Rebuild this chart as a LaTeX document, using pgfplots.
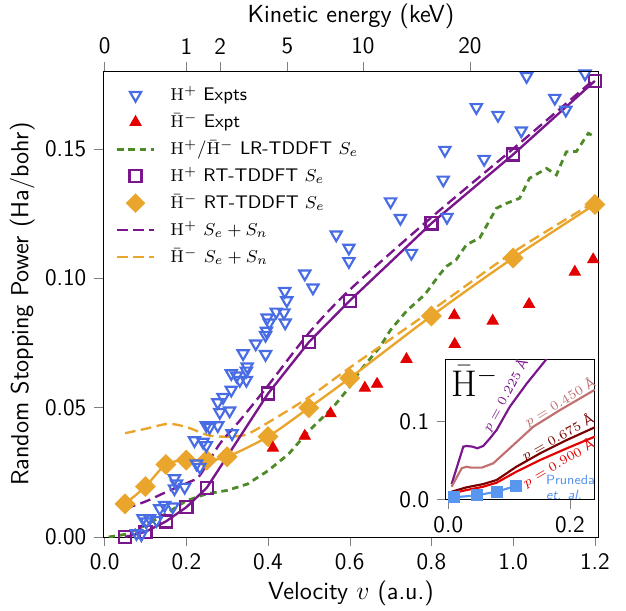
\documentclass[border=0pt]{standalone}
\usepackage{pgfplots}
\pgfplotsset{compat=1.18}
\renewcommand{\familydefault}{\sfdefault}

\definecolor{cBlue}{RGB}{72,108,228}
\definecolor{cRed}{RGB}{226,0,0}
\definecolor{cGreen}{RGB}{78,138,40}
\definecolor{cPurple}{RGB}{122,22,140}
\definecolor{cOrange}{RGB}{234,166,44}
\definecolor{cPink}{RGB}{192,112,112}
\definecolor{cDark}{RGB}{122,0,0}
\definecolor{cPru}{RGB}{88,150,240}

\newcommand{\Hp}{\ensuremath{\mathrm{H}^{+}}}
\newcommand{\Hm}{\ensuremath{\bar{\mathrm{H}}^{-}}}

\begin{document}
\begin{tikzpicture}
\path[use as bounding box] (-47.9pt,-34pt) rectangle (243.3pt,249.8pt);

\begin{axis}[
  at={(0,0)}, anchor=south west,
  width=230.7pt, height=216.7pt, scale only axis,
  xmin=-0.004, xmax=1.21, ymin=0, ymax=0.18,
  xtick={0,0.2,0.4,0.6,0.8,1.0,1.2},
  ytick={0,0.05,0.1,0.15},
  tick pos=left, tick align=outside,
  /pgf/number format/assume math mode=true,
  xticklabel style={/pgf/number format/.cd,fixed,fixed zerofill,precision=1},
  yticklabel style={/pgf/number format/.cd,fixed,fixed zerofill,precision=2},
  ticklabel style={font=\fontsize{11}{13}\selectfont},
  label style={font=\fontsize{11.5}{14}\selectfont},
  xlabel={Velocity $v$ (a.u.)},
  ylabel={Random Stopping Power (Ha/bohr)},
  xlabel style={yshift=2pt},
  ylabel style={yshift=-2pt},
  legend style={at={(0.012,0.982)}, anchor=north west, draw=none, fill=none,
    font=\fontsize{8.5}{10.5}\selectfont, row sep=2.4pt,
    nodes={inner ysep=1pt},
    /tikz/every odd column/.append style={column sep=5pt}},
  legend cell align=left,
]
% legend
\addlegendimage{only marks, mark=triangle, mark size=3pt, mark options={rotate=180, draw=cBlue, line width=1pt}}
\addlegendentry{\Hp\ Expts}
\addlegendimage{only marks, mark=triangle*, mark size=3pt, mark options={fill=cRed, draw=cRed}}
\addlegendentry{\Hm\ Expt}
\addlegendimage{cGreen, line width=1.3pt, dash pattern=on 3pt off 2.2pt}
\addlegendentry{\Hp/\Hm\ LR-TDDFT $S_e$}
\addlegendimage{only marks, mark=square, mark size=2.8pt, mark options={draw=cPurple, line width=1.1pt}}
\addlegendentry{\Hp\ RT-TDDFT $S_e$}
\addlegendimage{only marks, mark=square*, mark size=3pt, mark options={rotate=45, fill=cOrange, draw=cOrange}}
\addlegendentry{\Hm\ RT-TDDFT $S_e$}
\addlegendimage{cPurple, line width=1.1pt, dash pattern=on 5pt off 2.5pt}
\addlegendentry{\Hp\ $S_e+S_n$}
\addlegendimage{cOrange, line width=1.1pt, dash pattern=on 5pt off 2.5pt}
\addlegendentry{\Hm\ $S_e+S_n$}

% LR-TDDFT
\addplot[forget plot, cGreen, line width=1.3pt, dash pattern=on 3pt off 2.2pt] coordinates {
(0.01,0.0)(0.05,0.001)(0.1,0.0045)(0.15,0.009)(0.2,0.014)(0.25,0.0167)(0.3,0.018)
(0.35,0.0205)(0.4,0.0256)(0.45,0.032)(0.5,0.041)(0.559,0.0501)(0.6,0.058)(0.625,0.0642)
(0.673,0.0732)(0.7,0.080)(0.739,0.0873)(0.784,0.0937)(0.82,0.1014)(0.837,0.1046)(0.86,0.107)
(0.886,0.113)(0.918,0.1155)(0.959,0.127)(0.985,0.129)(1.016,0.1309)(1.04,0.1386)
(1.082,0.1424)(1.106,0.1399)(1.13,0.1488)(1.155,0.149)(1.184,0.156)(1.2,0.1546)
};

% H- Se+Sn
\addplot[forget plot, cOrange, line width=1.1pt, dash pattern=on 5pt off 2.5pt, smooth] coordinates {
(0.05,0.0401)(0.1,0.0418)(0.155,0.0437)(0.2,0.0425)(0.257,0.0392)(0.314,0.0388)
(0.35,0.0398)(0.4,0.0442)(0.5,0.054)(0.6,0.0654)(0.8,0.0875)(1.0,0.110)(1.2,0.1295)
};
% H+ Se+Sn
\addplot[forget plot, cPurple, line width=1.1pt, dash pattern=on 5pt off 2.5pt, smooth] coordinates {
(0.05,0.0110)(0.1,0.0137)(0.151,0.0174)(0.208,0.0213)(0.233,0.0238)(0.282,0.036)
(0.331,0.045)(0.4,0.0585)(0.5,0.0788)(0.6,0.0955)(0.8,0.1235)(1.0,0.150)(1.2,0.177)
};

% H- RT-TDDFT
\addplot[forget plot, cOrange, line width=1.1pt, smooth, mark=square*, mark size=2.9pt,
  mark options={rotate=45, fill=cOrange, draw=cOrange, solid}] coordinates {
(0.05,0.0128)(0.1,0.0195)(0.15,0.028)(0.2,0.0297)(0.25,0.0297)(0.3,0.031)
(0.4,0.0388)(0.5,0.0499)(0.6,0.0614)(0.8,0.0854)(1.0,0.1078)(1.2,0.1285)
};
% H+ RT-TDDFT
\addplot[forget plot, cPurple, line width=1.1pt, mark=square, mark size=2.8pt,
  mark options={draw=cPurple, fill=white, line width=1.1pt}] coordinates {
(0.05,0.0)(0.1,0.002)(0.15,0.006)(0.2,0.0115)(0.25,0.019)(0.4,0.0554)
(0.5,0.0753)(0.6,0.0913)(0.8,0.1212)(1.0,0.1478)(1.2,0.1762)
};

% H- experiment
\addplot[forget plot, only marks, mark=triangle*, mark size=3pt, mark options={fill=cRed, draw=cRed}] coordinates {
(0.412,0.0344)(0.49,0.039)(0.553,0.0477)(0.637,0.0576)(0.667,0.0591)(0.739,0.0687)
(0.856,0.0856)(0.857,0.0745)(0.95,0.0835)(1.039,0.0899)(1.151,0.1024)(1.196,0.1072)
};

% H+ experiments
\addplot[forget plot, only marks, mark=triangle, mark size=3pt, mark options={rotate=180, draw=cBlue, line width=1pt}] coordinates {
(0.078,0.0014)(0.09,0.0010)(0.094,0.0072)(0.102,0.0059)(0.11,0.0072)(0.127,0.0065)
(0.135,0.011)(0.147,0.0123)(0.167,0.0117)(0.171,0.0187)(0.171,0.0226)(0.176,0.0206)
(0.196,0.0193)(0.225,0.0283)(0.233,0.027)(0.22,0.0373)(0.241,0.0367)(0.249,0.0354)
(0.249,0.0431)(0.257,0.0424)(0.277,0.0431)(0.312,0.040)
(0.277,0.052)(0.282,0.0482)(0.29,0.054)(0.306,0.0488)(0.31,0.0568)(0.31,0.0632)
(0.323,0.0623)(0.331,0.0606)(0.347,0.0606)(0.347,0.0642)(0.339,0.0709)(0.349,0.0658)
(0.37,0.0747)(0.394,0.0706)(0.394,0.078)(0.396,0.0796)(0.403,0.0828)(0.398,0.0847)
(0.42,0.087)(0.439,0.0867)(0.442,0.0828)(0.441,0.095)(0.446,0.0914)(0.49,0.1017)(0.51,0.0963)
(0.567,0.1168)(0.598,0.1117)(0.598,0.1065)(0.7,0.1296)(0.724,0.1232)(0.751,0.1097)
(0.829,0.138)(0.833,0.1495)(0.838,0.1236)(0.91,0.166)(0.963,0.163)(0.929,0.146)
(1.02,0.157)(1.033,0.178)(1.102,0.1696)(1.129,0.165)(1.176,0.179)
};
\end{axis}

% top energy axis
\begin{axis}[
  at={(0,0)}, anchor=south west,
  width=230.7pt, height=216.7pt, scale only axis,
  xmin=-0.004, xmax=1.21, ymin=0, ymax=0.18,
  axis x line*=top, axis y line=none,
  tick align=outside,
  xtick={0,0.2,0.2828,0.4472,0.6325,0.8944},
  xticklabels={0,1,2,5,10,20},
  /pgf/number format/assume math mode=true,
  ticklabel style={font=\fontsize{11}{13}\selectfont},
  label style={font=\fontsize{11.5}{14}\selectfont},
  xlabel={Kinetic energy (keV)},
  xlabel style={yshift=-2.5pt},
]
\end{axis}

% inset
\begin{axis}[
  at={(159.5pt,17.5pt)}, anchor=south west,
  width=69.3pt, height=65.1pt, scale only axis,
  axis background/.style={fill=white},
  clip mode=individual,
  xmin=-0.004, xmax=0.241, ymin=0, ymax=0.18,
  xtick={0,0.2}, ytick={0,0.1},
  tick pos=left, tick align=outside,
  /pgf/number format/assume math mode=true,
  xticklabel style={/pgf/number format/.cd,fixed,fixed zerofill,precision=1},
  yticklabel style={/pgf/number format/.cd,fixed,fixed zerofill,precision=1},
  ticklabel style={font=\fontsize{11}{13}\selectfont},
]
\addplot[cPurple, line width=1pt] coordinates {
(0.0055,0.0197)(0.0247,0.0678)(0.030,0.0687)(0.040,0.0678)(0.0477,0.0657)(0.0575,0.0687)
(0.0685,0.0785)(0.0795,0.0893)(0.101,0.119)(0.129,0.149)(0.16,0.179)(0.17,0.19)
};
\addplot[cPink, line width=1pt] coordinates {
(0.0055,0.0163)(0.022,0.040)(0.030,0.042)(0.038,0.0408)(0.055,0.0408)(0.074,0.0464)
(0.101,0.0657)(0.14,0.0936)(0.184,0.115)(0.241,0.141)
};
\addplot[cDark, line width=1pt] coordinates {
(0.0055,0.0099)(0.030,0.0155)(0.0575,0.0197)(0.0795,0.0249)(0.112,0.042)(0.151,0.0592)
(0.195,0.0764)(0.241,0.0927)
};
\addplot[cRed, line width=1pt] coordinates {
(0.0055,0.0077)(0.030,0.012)(0.0575,0.0163)(0.0795,0.0215)(0.112,0.0356)(0.151,0.0506)
(0.195,0.0657)(0.241,0.0807)
};
\addplot[cPru, line width=1pt, mark=square*, mark size=2.3pt, mark options={fill=cPru, draw=cPru}] coordinates {
(0.0093,0.0026)(0.0466,0.0052)(0.0795,0.0099)(0.1107,0.0172)
};
\node[anchor=west, inner sep=0pt, font=\fontsize{17}{18}\selectfont] at (axis cs:0.004,0.152) {\Hm};
\node[cPurple, rotate=61, inner sep=0pt, font=\fontsize{6.3}{7.5}\selectfont] at (axis cs:0.0935,0.1340) {$p=0.225$ \AA};
\node[cPink, rotate=31, inner sep=0pt, font=\fontsize{6.3}{7.5}\selectfont] at (axis cs:0.1835,0.1250) {$p=0.450$ \AA};
\node[cDark, rotate=29, inner sep=0pt, font=\fontsize{6.3}{7.5}\selectfont] at (axis cs:0.1795,0.0800) {$p=0.675$ \AA};
\node[cRed, rotate=30, inner sep=0pt, font=\fontsize{6.3}{7.5}\selectfont] at (axis cs:0.1810,0.0468) {$p=0.900$ \AA};
\node[cPru, anchor=west, align=left, inner sep=0pt, font=\fontsize{6.2}{7}\selectfont] at (axis cs:0.160,0.015) {Pruneda\\\textit{et. al.}};
\end{axis}
\end{tikzpicture}
\end{document}
